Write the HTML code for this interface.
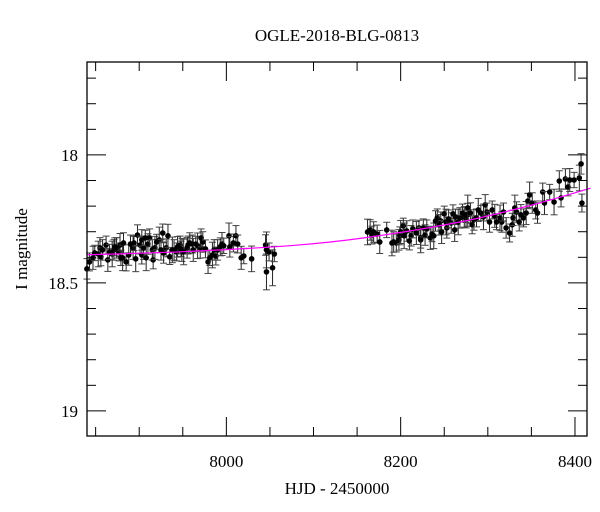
<!DOCTYPE html>
<html><head><meta charset="utf-8"><style>
html,body{margin:0;padding:0;background:#fff;width:600px;height:512px;overflow:hidden}
svg text{font-family:"Liberation Serif",serif;fill:#000}
</style></head><body>
<svg id="chart" width="600" height="512" viewBox="0 0 600 512" xmlns="http://www.w3.org/2000/svg">
<text x="337" y="41" font-size="17" text-anchor="middle">OGLE-2018-BLG-0813</text>
<text x="337" y="494" font-size="17" text-anchor="middle">HJD - 2450000</text>
<text transform="translate(27,249) rotate(-90)" font-size="17" text-anchor="middle">I magnitude</text>
<g id="ticks"></g>
<g id="points"></g>
<path id="model" fill="none" stroke="#ff00ff" stroke-width="1.2"></path>
<rect x="87" y="62" width="500" height="374" fill="none" stroke="#000" stroke-width="1.3"></rect>
</svg>
<script>
const xTicksMajor = [8000, 8200, 8400];
const yTicksMajor = [18, 18.5, 19];
const xTickLabels = ["8000", "8200", "8400"];
const yTickLabels = ["18", "18.5", "19"];
const modelDays = [7840, 7950, 8075, 8160, 8268, 8348, 8418];
const modelMags = [18.39, 18.378, 18.354, 18.323, 18.262, 18.198, 18.13];
const days = [7840,7843,7847,7849,7853,7855,7856,7858,7862,7864,7866,7869,7871,7872,7874,7877,7878,7879,7881,7882,7885,7888,7890,7893,7894,7896,7898,7901,7903,7903,7905,7907,7908,7910,7912,7915,7916,7918,7920,7923,7925,7927,7928,7931,7933,7935,7938,7940,7943,7944,7947,7949,
7948,7951,7955,7956,7958,7961,7962,7965,7967,7970,7971,7973,7976,7979,7981,7984,7986,7988,7990,7993,7995,7997,8003,8004,8008,8011,8013,8017,8020,8029,8045,8046,8046,8049,8053,8055,
8162,8165,8167,8169,8173,8176,8184,8190,8192,8195,8198,8199,8200,8203,8204,8207,8210,8212,8214,8218,8221,8223,8223,8226,8228,8230,8234,8236,8238,8240,8242,8244,8246,8247,8250,8252,8253,8255,8258,8260,8262,8263,8266,8268,8271,8273,8275,8277,
8275,8277,8280,8282,8284,8287,8289,8292,8295,8297,8299,8302,8305,8308,8310,8314,8316,8318,8321,8325,8328,8329,8331,8333,8336,8338,8341,8344,8346,8348,8351,8355,8357,8363,8365,8371,8376,8382,8384,8389,8392,8394,8399,8405,8407,8408];
const mags = [18.445,18.418,18.402,18.383,18.387,18.363,18.398,18.371,18.352,18.410,18.379,18.387,18.371,18.359,18.363,18.379,18.352,18.402,18.402,18.344,18.418,18.391,18.348,18.363,18.344,18.406,18.313,18.352,18.332,18.391,18.363,18.324,18.402,18.348,18.324,18.371,18.410,18.363,18.340,18.332,18.371,18.305,18.383,18.363,18.316,18.398,18.371,18.371,18.379,18.359,18.352,18.371,
18.367,18.379,18.363,18.352,18.344,18.348,18.371,18.348,18.355,18.363,18.324,18.340,18.367,18.418,18.402,18.391,18.371,18.395,18.371,18.359,18.348,18.355,18.316,18.359,18.344,18.316,18.348,18.402,18.395,18.406,18.352,18.371,18.457,18.379,18.441,18.387,
18.301,18.293,18.313,18.301,18.309,18.340,18.293,18.344,18.340,18.344,18.332,18.316,18.301,18.277,18.316,18.297,18.336,18.316,18.289,18.305,18.285,18.332,18.324,18.285,18.313,18.289,18.324,18.309,18.316,18.258,18.246,18.273,18.258,18.301,18.230,18.262,18.285,18.250,18.266,18.230,18.293,18.242,18.262,18.246,18.227,18.242,18.250,18.234,
18.234,18.207,18.227,18.273,18.254,18.246,18.215,18.227,18.242,18.195,18.223,18.262,18.215,18.238,18.262,18.246,18.262,18.223,18.285,18.305,18.273,18.246,18.207,18.223,18.262,18.234,18.246,18.227,18.180,18.156,18.188,18.215,18.227,18.145,18.188,18.145,18.184,18.102,18.168,18.094,18.125,18.098,18.098,18.090,18.035,18.188];
const errs = days.map((d,i)=>[0.04,0.035,0.045,0.03,0.05,0.04,0.035][i%7]);
errs[days.indexOf(8046)] = 0.07; errs[days.indexOf(8046)+1] = 0.07; errs[days.indexOf(8053)] = 0.07;

const X0=87,X1=587,Y0=62,Y1=436, DMIN=7840.1, DMAX=8413.8, MMIN=17.637, MMAX=19.098;
const xs = d => X0 + (d-DMIN)/(DMAX-DMIN)*(X1-X0);
const ys = m => Y0 + (m-MMIN)/(MMAX-MMIN)*(Y1-Y0);
const NS="http://www.w3.org/2000/svg";
const tg=document.getElementById('ticks'), pg=document.getElementById('points');
function line(g,x1,y1,x2,y2,w,c){const l=document.createElementNS(NS,'line');l.setAttribute('x1',x1);l.setAttribute('y1',y1);l.setAttribute('x2',x2);l.setAttribute('y2',y2);l.setAttribute('stroke',c||'#000');l.setAttribute('stroke-width',w||1);g.appendChild(l);return l;}
// x ticks
for(let d=7850; d<=8410; d+=50){
  const x=xs(d), maj = d%200===0, L = maj?19:9;
  const a=line(tg,x,Y1,x,Y1-L,1);
  
  
  const b=line(tg,x,Y0,x,Y0+L,1);
  
  
}
for(let k=0;k<=15;k++){
  const m=17.6+k*0.1; if(m<MMIN||m>MMAX) continue;
  const y=ys(m), maj=Math.abs(m*2-Math.round(m*2))<1e-6, L=maj?19:9;
  const a=line(tg,X0,y,X0+L,y,1);
  
  
  const b=line(tg,X1,y,X1-L,y,1);
  
  
}
xTicksMajor.forEach((d,i)=>{const t=document.createElementNS(NS,'text');t.setAttribute('x',xs(d));t.setAttribute('y',467);t.setAttribute('font-size','17');t.setAttribute('text-anchor','middle');t.textContent=xTickLabels[i];


tg.appendChild(t);});
yTicksMajor.forEach((m,i)=>{const t=document.createElementNS(NS,'text');t.setAttribute('x',78);t.setAttribute('y',ys(m)+6);t.setAttribute('font-size','17');t.setAttribute('text-anchor','end');t.textContent=yTickLabels[i];


tg.appendChild(t);});
// points
days.forEach((d,i)=>{
  const x=xs(d), y=ys(mags[i]), e=errs[i]*(Y1-Y0)/(MMAX-MMIN);
  const g=document.createElementNS(NS,'g');
  
  
  line(g,x,y-e,x,y+e,1,'#222');
  line(g,x-3.5,y-e,x+3.5,y-e,1,'#444');
  line(g,x-3.5,y+e,x+3.5,y+e,1,'#444');
  const c=document.createElementNS(NS,'circle');c.setAttribute('cx',x);c.setAttribute('cy',y);c.setAttribute('r',2.8);c.setAttribute('fill','#000');g.appendChild(c);
  pg.appendChild(g);
});
// model curve (smooth via catmull-rom through samples)
const P=modelDays.map((d,i)=>[xs(d),ys(modelMags[i])]);
let dstr=`M${P[0][0]},${P[0][1]}`;
for(let i=0;i<P.length-1;i++){const p0=P[Math.max(0,i-1)],p1=P[i],p2=P[i+1],p3=P[Math.min(P.length-1,i+2)];
 dstr+=` C${p1[0]+(p2[0]-p0[0])/6},${p1[1]+(p2[1]-p0[1])/6} ${p2[0]-(p3[0]-p1[0])/6},${p2[1]-(p3[1]-p1[1])/6} ${p2[0]},${p2[1]}`;}
document.getElementById('model').setAttribute('d',dstr);
</script>
</body></html>
